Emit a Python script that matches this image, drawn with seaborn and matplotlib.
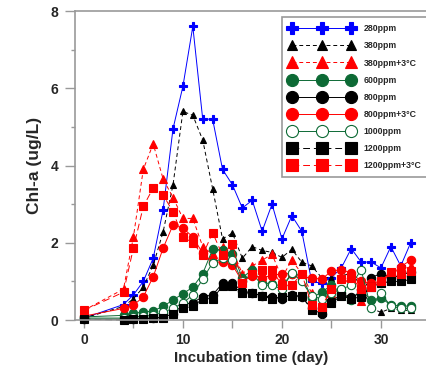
import numpy as np
import pandas as pd
import seaborn as sns
import matplotlib.pyplot as plt
from matplotlib.ticker import MultipleLocator

sns.set_style('white')
plt.rcParams['font.family'] = ['Liberation Sans', 'DejaVu Sans']
plt.rcParams['font.weight'] = 'bold'

# days sampled (no samples between day 0 and day 4)
days = [0] + list(range(4, 34))

ppm280 = [0.05, 0.4, 0.65, 1.0, 1.6, 2.85, 4.95, 6.05, 7.6, 5.2, 5.2, 3.9, 3.5, 2.9, 3.1, 2.3,
          3.0, 2.1, 2.7, 2.3, 1.0, 0.95, 1.1, 1.35, 1.85, 1.5, 1.5, 1.35, 1.9, 1.4, 2.0]
ppm380 = [0.05, 0.35, 0.55, 0.85, 1.42, 2.28, 3.5, 5.4, 5.3, 4.66, 3.4, 2.1, 2.25, 1.6, 1.9, 1.8,
          1.75, 1.62, 1.83, 1.5, 1.4, 1.1, 1.1, 1.15, 1.2, 0.9, 0.3, 0.2, 0.3, 0.25, 0.25]
ppm380_3c = [0.25, 0.8, 2.15, 3.9, 4.56, 3.65, 3.17, 2.63, 2.63, 1.9, 1.7, 1.9, 1.8, 1.2, 1.4, 1.55,
             1.7, 1.1, 1.55, 1.2, 0.7, 0.5, 0.7, 0.8, 1.2, 0.5, 1.0, 1.1, 1.2, 1.3, 1.4]
ppm600 = [0.08, 0.12, 0.18, 0.2, 0.24, 0.35, 0.52, 0.68, 0.85, 1.2, 1.83, 1.8, 1.72, 1.1, 1.3, 0.97,
          0.93, 0.88, 1.2, 1.15, 0.57, 0.72, 0.9, 0.7, 0.52, 0.78, 0.52, 0.57, 0.39, 0.36, 0.36]
ppm800 = [0.02, 0.02, 0.03, 0.04, 0.05, 0.08, 0.15, 0.4, 0.45, 0.6, 0.65, 0.95, 0.95, 0.75, 0.7, 0.62,
          0.6, 0.55, 0.65, 0.6, 0.3, 0.15, 0.5, 0.65, 0.6, 0.7, 1.1, 1.2, 1.1, 1.15, 1.25]
ppm800_3c = [0.1, 0.3, 0.38, 0.6, 1.12, 1.86, 2.46, 2.38, 2.15, 1.73, 1.5, 1.5, 1.42, 1.0, 1.15, 1.1,
             1.15, 1.2, 1.2, 1.1, 1.1, 1.05, 1.27, 1.3, 1.22, 1.0, 0.95, 1.0, 1.17, 1.38, 1.55]
ppm1000 = [0.05, 0.05, 0.08, 0.1, 0.12, 0.2, 0.3, 0.44, 0.65, 1.06, 1.48, 1.6, 1.55, 1.0, 1.2, 0.9,
           0.9, 0.8, 1.22, 1.0, 0.62, 0.55, 0.7, 0.8, 0.9, 1.3, 0.3, 0.7, 0.35, 0.3, 0.3]
ppm1200 = [0.02, 0.0, 0.02, 0.03, 0.05, 0.05, 0.15, 0.3, 0.35, 0.55, 0.55, 0.88, 0.88, 0.7, 0.7, 0.62,
           0.55, 0.6, 0.62, 0.62, 0.26, 0.22, 0.45, 0.62, 0.55, 0.6, 0.86, 0.95, 1.0, 1.0, 1.05]
ppm1200_3c = [0.25, 0.72, 1.86, 2.94, 3.42, 3.24, 2.8, 2.15, 2.0, 1.68, 2.26, 1.68, 1.97, 0.96, 1.2, 1.3,
              1.3, 0.9, 0.9, 1.2, 0.4, 0.34, 0.8, 1.05, 1.1, 0.8, 0.85, 1.0, 1.24, 1.2, 1.27]

labels = ['280ppm', '380ppm', '380ppm+3°C', '600ppm', '800ppm', '800ppm+3°C',
          '1000ppm', '1200ppm', '1200ppm+3°C']
values = [ppm280, ppm380, ppm380_3c, ppm600, ppm800, ppm800_3c, ppm1000, ppm1200, ppm1200_3c]

df = pd.concat([pd.DataFrame({'day': days, 'chl': v, 'treat': lab}) for lab, v in zip(labels, values)])

green = '#0d6a35'
styles = {
    '280ppm':      dict(color='#0000ff', marker='P', mfc='#0000ff', ls='-', ms=6),
    '380ppm':      dict(color='black', marker='^', mfc='black', ls=(0, (4, 3)), ms=5),
    '380ppm+3°C':  dict(color='#ff0000', marker='^', mfc='#ff0000', ls=(0, (4, 3)), ms=5.5),
    '600ppm':      dict(color=green, marker='o', mfc=green, ls='-', ms=6),
    '800ppm':      dict(color='black', marker='o', mfc='black', ls='-', ms=6),
    '800ppm+3°C':  dict(color='#ff0000', marker='o', mfc='#ff0000', ls='-', ms=6),
    '1000ppm':     dict(color=green, marker='o', mfc='white', ls='-', ms=6),
    '1200ppm':     dict(color='black', marker='s', mfc='black', ls=(0, (7, 4)), ms=5.5),
    '1200ppm+3°C': dict(color='#ff0000', marker='s', mfc='#ff0000', ls=(0, (7, 4)), ms=5.5),
}

fig = plt.figure(figsize=(4.27, 3.82), dpi=100)
ax = fig.add_axes([0.1756, 0.1623, 0.8244, 0.8089])

for lab in labels:
    st = styles[lab]
    sns.lineplot(data=df[df['treat'] == lab], x='day', y='chl', ax=ax, label=lab,
                 color=st['color'], linestyle=st['ls'], linewidth=0.7,
                 marker=st['marker'], markersize=st['ms'], markerfacecolor=st['mfc'],
                 markeredgecolor=st['color'], markeredgewidth=0.8, clip_on=False)

ax.set_xlim(-0.9, 34.65)
ax.set_ylim(0, 8)
ax.xaxis.set_major_locator(MultipleLocator(10))
ax.xaxis.set_minor_locator(MultipleLocator(5))
ax.yaxis.set_major_locator(MultipleLocator(2))
ax.yaxis.set_minor_locator(MultipleLocator(1))
ax.tick_params(axis='x', which='both', direction='out', length=6, width=1, color='#999999',
               labelsize=10, pad=3)
ax.tick_params(axis='y', which='major', direction='out', length=7, width=1, color='#999999',
               labelsize=10, pad=5)
ax.tick_params(axis='y', which='minor', direction='out', length=3, width=1, color='#999999')
ax.tick_params(bottom=True, left=True, which='both')
for s in ['left', 'bottom', 'top']:
    ax.spines[s].set_color('#999999')
    ax.spines[s].set_linewidth(1.2)
ax.spines['right'].set_visible(False)

ax.set_xlabel('Incubation time (day)', fontsize=11, fontweight='bold', labelpad=3)
ax.set_ylabel('Chl-a (ug/L)', fontsize=12.5, fontweight='bold', labelpad=6)

leg = ax.legend(loc='upper left', bbox_to_anchor=(0.660, 0.9555), bbox_transform=fig.transFigure,
                borderaxespad=0, numpoints=3, markerscale=1.45, handlelength=7.4,
                handletextpad=1.1, labelspacing=0.92, borderpad=0.85,
                prop={'size': 6.3, 'weight': 'bold'}, fancybox=False, framealpha=1)
leg.get_frame().set_edgecolor('#999999')
leg.get_frame().set_linewidth(1.2)

fig.savefig('out.png', dpi=100)
